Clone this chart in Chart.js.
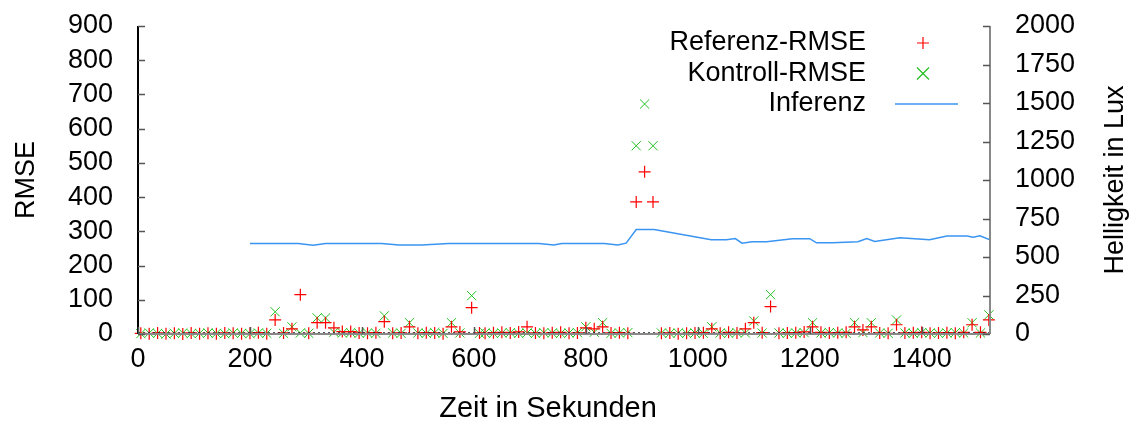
<!DOCTYPE html>
<html>
<head>
<meta charset="utf-8">
<script src="https://cdn.jsdelivr.net/npm/chart.js@4/dist/chart.umd.min.js"></script>
<style>
  html, body { margin: 0; padding: 0; background: #fff; }
  #wrap { position: relative; width: 1135px; height: 423px; }
</style>
</head>
<body>
<div id="wrap"><canvas id="chart"></canvas></div>
<script>
// Messzeitpunkte der RMSE-Werte (Sekunden)
const times = [5, 20, 35, 50, 65, 80, 95, 110, 125, 140, 155, 170, 185, 200, 215, 230,
  245, 260, 275, 290, 305, 320, 335, 350, 365, 380, 395, 410, 425, 440, 455, 470,
  485, 500, 515, 530, 545, 560, 575, 596, 610, 620, 635, 650, 665, 680, 695, 710,
  725, 740, 755, 770, 785, 800, 815, 830, 845, 860, 875, 890, 905, 920, 935, 950,
  965, 980, 995, 1010, 1025, 1040, 1055, 1070, 1085, 1100, 1115, 1130, 1145, 1160,
  1175, 1190, 1205, 1220, 1235, 1250, 1265, 1280, 1295, 1310, 1325, 1340, 1355,
  1370, 1385, 1400, 1415, 1430, 1445, 1460, 1475, 1490, 1505, 1520];

const referenzRmse = [2, 1, 3, 1, 2, 0, 3, 1, 2, 1, 3, 2, 1, 2, 4, 1,
  41, 3, 15, 115, 2, 33, 33, 18, 7, 7, 3, 2, 4, 36, 2, 3,
  21, 2, 4, 3, 1, 21, 6, 77, 3, 2, 4, 5, 3, 6, 21, 3,
  2, 4, 5, 2, 3, 18, 15, 21, 3, 4, 2, 386, 474, 386, 2, 3,
  1, 2, 3, 4, 15, 2, 5, 3, 15, 33, 4, 80, 2, 3,
  4, 6, 21, 5, 3, 4, 5, 21, 12, 21, 3, 2, 27,
  3, 4, 5, 2, 3, 4, 2, 5, 27, 5, 41];

const kontrollRmse = [1, 3, 2, 0, 2, 3, 1, 2, 3, 2, 1, 3, 2, 1, 3, 2,
  65, 2, 21, 3, 2, 47, 47, 5, 3, 4, 2, 3, 2, 53, 3, 2,
  33, 3, 2, 4, 2, 33, 3, 112, 2, 3, 2, 3, 4, 2, 3, 2,
  4, 3, 2, 3, 4, 21, 5, 33, 2, 3, 4, 550, 672, 550, 3, 2,
  3, 2, 3, 2, 21, 3, 2, 4, 3, 38, 3, 115, 3, 2,
  3, 4, 33, 3, 4, 3, 2, 33, 4, 33, 3, 2, 41,
  3, 2, 4, 3, 2, 3, 4, 3, 33, 3, 56];

// Inferierte Helligkeit (Lux)
const inferenzTimes = [200, 286, 313, 335, 435, 466, 507, 555, 716, 743, 757, 833, 857, 872,
  890, 922, 1024, 1051, 1067, 1079, 1097, 1123, 1169, 1200, 1212, 1241, 1286, 1302,
  1316, 1361, 1414, 1445, 1481, 1492, 1504, 1522];
const inferenzLux = [588, 588, 577, 588, 588, 578, 578, 588, 588, 578, 588, 588, 578, 590,
  678, 678, 612, 612, 620, 590, 599, 599, 619, 619, 592, 592, 599, 620,
  601, 625, 612, 636, 636, 628, 638, 612];

const xTicks = [0, 200, 400, 600, 800, 1000, 1200, 1400];

const FONT = "'Liberation Sans', Arial, sans-serif";
const FS = 27;

function pts(xs, ys) {
  return xs.map((x, i) => ({ x, y: ys[i] }));
}

const plain = v => String(v);

// vertikale Achsen: Breite fest, keine Zusatzpolsterung oben/unten
function fixWidth(w) {
  return s => { s.width = w; s.paddingTop = 0; s.paddingBottom = 0; };
}

// Achsenlinien, nach innen zeigende Ticks, Achsentitel (x, rechts) und Legende
const gnuplotLook = {
  id: 'gnuplotLook',
  afterDatasetsDraw(chart) {
    const { ctx, chartArea: a, scales } = chart;
    ctx.save();

    // gepunktete Nulllinie
    ctx.strokeStyle = '#222';
    ctx.lineWidth = 1.5;
    ctx.setLineDash([2, 3]);
    ctx.beginPath();
    ctx.moveTo(a.left, a.bottom - 1);
    ctx.lineTo(a.right, a.bottom - 1);
    ctx.stroke();
    ctx.setLineDash([]);

    // Rahmen
    ctx.lineWidth = 2;
    ctx.strokeStyle = '#888';
    ctx.beginPath();
    ctx.moveTo(a.left, a.bottom);
    ctx.lineTo(a.right, a.bottom);
    ctx.moveTo(a.right, a.bottom);
    ctx.lineTo(a.right, a.top);
    ctx.stroke();
    ctx.strokeStyle = '#000';
    ctx.beginPath();
    ctx.moveTo(a.left, a.top);
    ctx.lineTo(a.left, a.bottom);
    ctx.stroke();

    // Ticks
    const tl = 7;
    ctx.lineWidth = 1.5;
    ctx.strokeStyle = '#555';
    ctx.beginPath();
    scales.y.ticks.forEach(t => {
      const y = Math.round(scales.y.getPixelForValue(t.value)) + 0.5;
      ctx.moveTo(a.left, y); ctx.lineTo(a.left + tl, y);
    });
    scales.y2.ticks.forEach(t => {
      const y = Math.round(scales.y2.getPixelForValue(t.value)) + 0.5;
      ctx.moveTo(a.right, y); ctx.lineTo(a.right - tl, y);
    });
    scales.x.ticks.forEach(t => {
      const x = Math.round(scales.x.getPixelForValue(t.value)) + 0.5;
      ctx.moveTo(x, a.bottom); ctx.lineTo(x, a.bottom - tl);
    });
    ctx.stroke();

    ctx.fillStyle = '#000';
    ctx.textAlign = 'center';
    ctx.textBaseline = 'middle';

    // x-Achsentitel
    ctx.font = '29px ' + FONT;
    ctx.fillText('Zeit in Sekunden', 548, 409);

    // rechter Achsentitel (von unten nach oben)
    ctx.font = FS + 'px ' + FONT;
    ctx.translate(1116, (a.top + a.bottom) / 2);
    ctx.rotate(-Math.PI / 2);
    ctx.fillText('Helligkeit in Lux', 0, 0);
    ctx.restore();

    // Legende
    ctx.save();
    ctx.font = FS + 'px ' + FONT;
    ctx.textAlign = 'right';
    ctx.textBaseline = 'middle';
    ctx.fillStyle = '#000';
    const rows = chart.data.datasets;
    const lx = 866, sx = 923;
    rows.forEach((ds, i) => {
      const y = 43 + i * 30.5;
      ctx.fillText(ds.label, lx, y);
      ctx.strokeStyle = ds.borderColor;
      ctx.lineWidth = ds.type === 'line' ? 1.5 : 1.2;
      ctx.beginPath();
      if (ds.type === 'line') {
        ctx.moveTo(895, y); ctx.lineTo(958, y);
      } else if (ds.pointStyle === 'cross') {
        ctx.moveTo(sx - 6, y); ctx.lineTo(sx + 6, y);
        ctx.moveTo(sx, y - 6); ctx.lineTo(sx, y + 6);
      } else {
        ctx.moveTo(sx - 6, y - 6); ctx.lineTo(sx + 6, y + 6);
        ctx.moveTo(sx - 6, y + 6); ctx.lineTo(sx + 6, y - 6);
      }
      ctx.stroke();
    });
    ctx.restore();
  }
};

new Chart(document.getElementById('chart'), {
  data: {
    datasets: [
      {
        type: 'scatter',
        label: 'Referenz-RMSE',
        data: pts(times, referenzRmse),
        yAxisID: 'y',
        pointStyle: 'cross',
        pointRadius: 6,
        borderColor: '#ff0000',
        backgroundColor: '#ff0000',
        borderWidth: 1.2,
        clip: false
      },
      {
        type: 'scatter',
        label: 'Kontroll-RMSE',
        data: pts(times, kontrollRmse),
        yAxisID: 'y',
        pointStyle: 'crossRot',
        pointRadius: 6.5,
        borderColor: '#22c022',
        backgroundColor: '#22c022',
        borderWidth: 1,
        clip: false
      },
      {
        type: 'line',
        label: 'Inferenz',
        data: pts(inferenzTimes, inferenzLux),
        yAxisID: 'y2',
        borderColor: '#3a94f2',
        borderWidth: 1.5,
        pointRadius: 0,
        tension: 0,
        fill: false
      }
    ]
  },
  options: {
    responsive: true,
    maintainAspectRatio: false,
    animation: false,
    events: [],
    layout: { padding: { top: 26, left: 0, right: 0, bottom: 0 } },
    plugins: { legend: { display: false }, tooltip: { enabled: false } },
    scales: {
      x: {
        type: 'linear',
        min: 0,
        max: 1522,
        afterBuildTicks: s => { s.ticks = xTicks.map(v => ({ value: v })); },
        afterFit: s => { s.height = 89; s.paddingLeft = 0; s.paddingRight = 0; },
        grid: { display: false, drawTicks: false },
        border: { display: false },
        ticks: { color: '#000', font: { family: FONT, size: FS }, padding: 9, maxRotation: 0,
                 autoSkip: false, callback: plain },
        title: { display: false }
      },
      y: {
        position: 'left',
        min: 0,
        max: 900,
        ticks: { stepSize: 100, color: '#000', font: { family: FONT, size: FS }, padding: 25,
                 autoSkip: false, callback: plain },
        afterFit: fixWidth(138),
        grid: { display: false, drawTicks: false },
        border: { display: false },
        title: { display: true, text: 'RMSE', color: '#000',
                 font: { family: FONT, size: FS }, padding: { top: 10, bottom: 0 } }
      },
      y2: {
        position: 'right',
        min: 0,
        max: 2000,
        ticks: { stepSize: 250, color: '#000', font: { family: FONT, size: FS }, padding: 25,
                 autoSkip: false, callback: plain },
        afterFit: fixWidth(145),
        grid: { display: false, drawTicks: false },
        border: { display: false }
      }
    }
  },
  plugins: [gnuplotLook]
});
</script>
</body>
</html>
